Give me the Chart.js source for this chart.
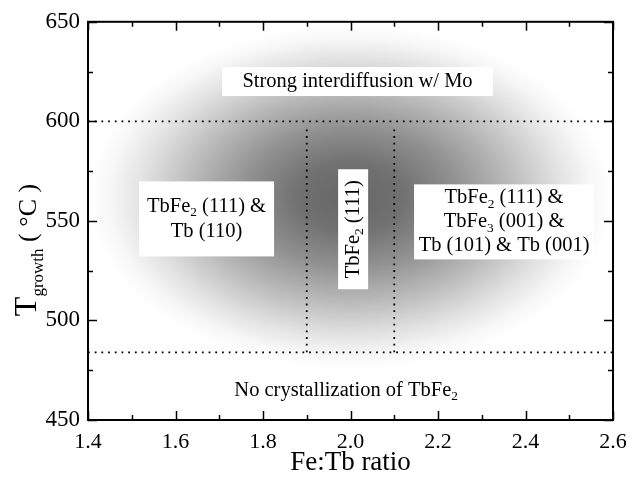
<!DOCTYPE html>
<html>
<head>
<meta charset="utf-8">
<script src="https://cdn.jsdelivr.net/npm/chart.js@4.4.1/dist/chart.umd.min.js"></script>
<style>
  html, body { margin: 0; padding: 0; background: #fff; }
  #wrap { width: 639px; height: 482px; }
</style>
</head>
<body>
<div id="wrap"><canvas id="c"></canvas></div>
<script>
// axis ranges / ticks
const xRange = [1.4, 2.6];
const yRange = [450, 650];
const xStep = 0.2;
const yStep = 50;

// phase boundaries (dotted lines)
const tUpper = 600;
const tLower = 484;
const ratioLeft = 1.9;
const ratioRight = 2.1;

// region labels: "_x" marks a subscript
const labelStrong = ['Strong interdiffusion w/ Mo'];
const labelLeft = ['TbFe_2 (111) &', 'Tb (110)'];
const labelMid = ['TbFe_2 (111)'];
const labelRight = ['TbFe_2 (111) &', 'TbFe_3 (001) &', 'Tb (101) & Tb (001)'];
const labelBottom = ['No crystallization of TbFe_2'];

const FONT = '"Liberation Serif", "DejaVu Serif", serif';

function parseRich(s) {
    const segs = [];
    const parts = s.split(/_(\d)/);
    parts.forEach((p, i) => {
        if (p === '') return;
        segs.push({ t: p, sub: i % 2 === 1 });
    });
    return segs;
}

function richWidth(ctx, segs, size) {
    let w = 0;
    segs.forEach(s => {
        ctx.font = (s.sub ? size * 0.65 : size) + 'px ' + FONT;
        w += ctx.measureText(s.t).width;
    });
    return w;
}

function drawRich(ctx, str, cx, cy, size) {
    const segs = parseRich(str);
    let x = cx - richWidth(ctx, segs, size) / 2;
    ctx.textAlign = 'left';
    ctx.textBaseline = 'middle';
    segs.forEach(s => {
        ctx.font = (s.sub ? size * 0.65 : size) + 'px ' + FONT;
        ctx.fillText(s.t, x, s.sub ? cy + size * 0.3 : cy);
        x += ctx.measureText(s.t).width;
    });
}

function drawLabel(ctx, lines, cx, cy, size, lh, box) {
    if (box) {
        ctx.fillStyle = '#fff';
        ctx.fillRect(cx - box[0] / 2, cy - box[1] / 2, box[0], box[1]);
    }
    ctx.fillStyle = '#000';
    const top = cy - (lines.length - 1) * lh / 2;
    lines.forEach((l, i) => drawRich(ctx, l, cx, top + i * lh, size));
}

const decor = {
    id: 'decor',
    beforeDatasetsDraw(chart) {
        const { ctx, chartArea: a, scales: { x, y } } = chart;
        const cx = x.getPixelForValue(2.0);
        const cy = y.getPixelForValue(562);
        const rx = 262, ry = 172;
        ctx.save();
        ctx.beginPath();
        ctx.rect(a.left, a.top, a.right - a.left, a.bottom - a.top);
        ctx.clip();
        ctx.translate(cx, cy);
        ctx.scale(1, ry / rx);
        const g = ctx.createRadialGradient(0, 0, 0, 0, 0, rx);
        g.addColorStop(0, '#666666');
        g.addColorStop(0.2, '#717171');
        g.addColorStop(0.4, '#909090');
        g.addColorStop(0.6, '#b8b8b8');
        g.addColorStop(0.8, '#e2e2e2');
        g.addColorStop(0.92, '#f7f7f7');
        g.addColorStop(1, '#ffffff');
        ctx.fillStyle = g;
        ctx.beginPath();
        ctx.arc(0, 0, rx, 0, Math.PI * 2);
        ctx.fill();
        ctx.restore();
    },
    afterDatasetsDraw(chart) {
        const { ctx, chartArea: a, scales: { x, y } } = chart;
        ctx.save();
        // inside ticks on all four sides
        ctx.strokeStyle = '#000';
        ctx.lineWidth = 1.5;
        ctx.beginPath();
        for (let v = xRange[0]; v <= xRange[1] + 1e-9; v += xStep / 2) {
            const px = Math.round(x.getPixelForValue(v)) + 0.5;
            const major = Math.abs(Math.round(v / xStep) * xStep - v) < 1e-6;
            const len = major ? 9 : 5;
            ctx.moveTo(px, a.bottom); ctx.lineTo(px, a.bottom - len);
            ctx.moveTo(px, a.top); ctx.lineTo(px, a.top + len);
        }
        for (let v = yRange[0]; v <= yRange[1]; v += yStep / 2) {
            const py = Math.round(y.getPixelForValue(v)) + 0.5;
            const len = v % yStep === 0 ? 9 : 5;
            ctx.moveTo(a.left, py); ctx.lineTo(a.left + len, py);
            ctx.moveTo(a.right, py); ctx.lineTo(a.right - len, py);
        }
        ctx.stroke();
        ctx.lineWidth = 2;
        ctx.strokeRect(a.left, a.top, a.right - a.left, a.bottom - a.top);

        // region labels
        const P = (vx, vy) => [x.getPixelForValue(vx), y.getPixelForValue(vy)];
        let p = P(2.016, 620);
        drawLabel(ctx, labelStrong, p[0], p[1], 20.5, 25, [271, 29]);
        p = P(1.671, 551);
        drawLabel(ctx, labelLeft, p[0], p[1], 20.5, 25, [135, 75]);
        p = P(2.351, 549.5);
        drawLabel(ctx, labelRight, p[0], p[1], 20.5, 24, [180, 75]);
        p = P(1.99, 465);
        drawLabel(ctx, labelBottom, p[0], p[1], 20.5, 25, null);
        p = P(2.006, 545.8);
        ctx.save();
        ctx.translate(p[0], p[1]);
        ctx.rotate(-Math.PI / 2);
        drawLabel(ctx, labelMid, 0, 0, 20.5, 25, [120, 30]);
        ctx.restore();

        // axis titles
        ctx.fillStyle = '#000';
        ctx.font = '27px ' + FONT;
        ctx.textAlign = 'center';
        ctx.textBaseline = 'middle';
        ctx.fillText('Fe:Tb ratio', (a.left + a.right) / 2, 463);

        ctx.save();
        ctx.translate(36, 250);
        ctx.rotate(-Math.PI / 2);
        ctx.textBaseline = 'alphabetic';
        const parts = [['T', 32, 0], ['growth', 17, 7], [' ( °C )', 26, 0]];
        let w = 0;
        parts.forEach(q => { ctx.font = q[1] + 'px ' + FONT; w += ctx.measureText(q[0]).width; });
        let tx = -w / 2;
        ctx.textAlign = 'left';
        parts.forEach(q => {
            ctx.font = q[1] + 'px ' + FONT;
            ctx.fillText(q[0], tx, q[2]);
            tx += ctx.measureText(q[0]).width;
        });
        ctx.restore();
        ctx.restore();
    }
};

const dotted = {
    showLine: true,
    borderColor: '#000',
    borderWidth: 1.8,
    borderDash: [1.8, 4.9],
    pointRadius: 0,
    fill: false
};

function draw() {
    new Chart(document.getElementById('c'), {
        type: 'scatter',
        data: {
            datasets: [
                { ...dotted, data: [{ x: xRange[0], y: tUpper }, { x: xRange[1], y: tUpper }] },
                { ...dotted, data: [{ x: xRange[0], y: tLower }, { x: xRange[1], y: tLower }] },
                { ...dotted, data: [{ x: ratioLeft, y: tLower }, { x: ratioLeft, y: tUpper - 3 }] },
                { ...dotted, data: [{ x: ratioRight, y: tLower }, { x: ratioRight, y: tUpper - 3 }] }
            ]
        },
        options: {
            responsive: true,
            maintainAspectRatio: false,
            animation: false,
            events: [],
            layout: { padding: { left: 0, top: 17, right: 26, bottom: 0 } },
            plugins: { legend: { display: false }, tooltip: { enabled: false } },
            scales: {
                x: {
                    type: 'linear',
                    min: xRange[0],
                    max: xRange[1],
                    grid: { display: false, drawTicks: false },
                    border: { display: false },
                    afterFit: s => { s.height = 62; },
                    ticks: {
                        stepSize: xStep,
                        padding: 9,
                        color: '#000',
                        font: { family: FONT, size: 22 },
                        maxRotation: 0,
                        callback: v => v.toFixed(1)
                    }
                },
                y: {
                    type: 'linear',
                    min: yRange[0],
                    max: yRange[1],
                    grid: { display: false, drawTicks: false },
                    border: { display: false },
                    afterFit: s => { s.width = 88; },
                    ticks: {
                        stepSize: yStep,
                        padding: 8,
                        color: '#000',
                        font: { family: FONT, size: 23 }
                    }
                }
            }
        },
        plugins: [decor]
    });
}

Promise.all([
    document.fonts.load('20px "Liberation Serif"'),
    document.fonts.load('20px "DejaVu Serif"')
]).then(draw, draw);
</script>
</body>
</html>
